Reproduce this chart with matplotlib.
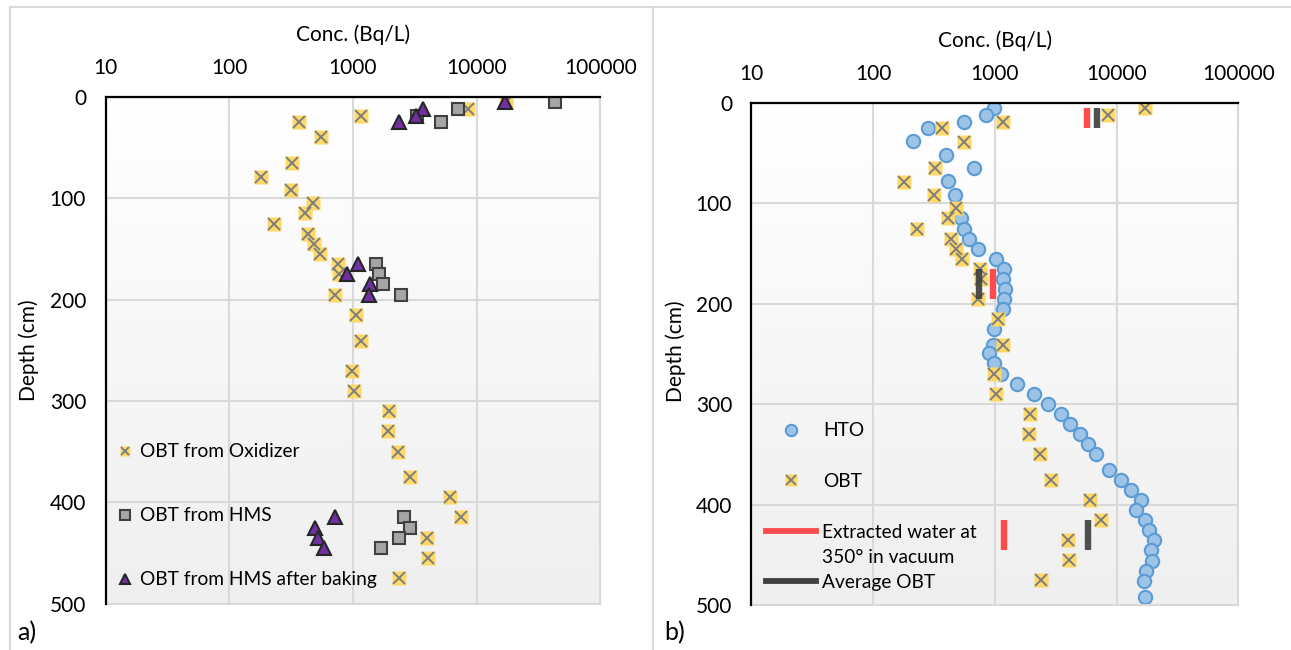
import numpy as np
import matplotlib
matplotlib.use("Agg")
import matplotlib.pyplot as plt
from matplotlib.colors import LinearSegmentedColormap
from matplotlib.lines import Line2D
from matplotlib.ticker import NullLocator

plt.rcParams['font.family'] = ['Lato', 'DejaVu Sans']

# ---------------- data ----------------
xticks = [10, 100, 1000, 10000, 100000]
xtick_labels = ["10", "100", "1000", "10000", "100000"]
yticks = [0, 100, 200, 300, 400, 500]

# OBT from oxidizer (same series as "OBT" in panel b)
obt_depth = [5, 12, 19, 25, 39, 65, 79, 92, 105, 115, 125, 135, 145, 155, 165,
             175, 195, 215, 241, 270, 290, 310, 330, 350, 375, 395, 415, 435, 455, 475]
obt_conc = [17200, 8550, 1160, 370, 553, 323, 180, 315, 475, 412, 231, 436, 482, 538, 752,
            770, 722, 1067, 1160, 990, 1030, 1950, 1910, 2330, 2880, 6100, 7500, 4000, 4050, 2370]

# OBT from HMS
hms_depth = [5, 12, 19, 25, 165, 175, 185, 195, 415, 425, 435, 445]
hms_conc = [43000, 7100, 3300, 5130, 1540, 1620, 1760, 2450, 2570, 2900, 2370, 1700]

# OBT from HMS after baking
bake_depth = [5, 12, 19, 25, 165, 175, 185, 195, 415, 425, 435, 445]
bake_conc = [17000, 3660, 3240, 2370, 1090, 900, 1375, 1343, 716, 491, 525, 587]

# HTO
hto_depth = [5, 12, 19, 25, 38, 52, 65, 78, 92, 115, 125, 135, 145, 155, 165, 175, 185,
             195, 205, 225, 241, 249, 259, 270, 280, 290, 300, 310, 320, 330, 340, 350,
             366, 375, 385, 395, 405, 415, 425, 435, 445, 456, 466, 476, 492]
hto_conc = [985, 840, 555, 284, 211, 396, 670, 412, 473, 524, 557, 609, 731, 1016, 1189,
            1173, 1211, 1194, 1173, 985, 960, 900, 990, 1117, 1520, 2110, 2730, 3470, 4140,
            4970, 5790, 6770, 8710, 10930, 13200, 15800, 14430, 17200, 18580, 20400, 19300,
            19630, 17330, 16790, 17200]

# Extracted water at 350 deg in vacuum / average OBT (depth ranges)
seg_top = [5, 165, 415]
seg_bot = [25, 195, 445]
ext_conc = [5680, 960, 1195]
avg_conc = [6850, 745, 5790]

# ---------------- styles ----------------
YEL = '#FFD966'
XGRAY = '#7F7F7F'
W, H = 1291, 650
FS = 15
LFS = 13.8

fig = plt.figure(figsize=(W / 100, H / 100), dpi=100)


def rect(x0, x1, y0, y1):
    return [x0 / W, 1 - y1 / H, (x1 - x0) / W, (y1 - y0) / H]


axL = fig.add_axes(rect(105.5, 600.3, 97, 603.5))
axR = fig.add_axes(rect(751.5, 1238.3, 103, 605))

grad = LinearSegmentedColormap.from_list('g', ['#ffffff', '#efefef'])


def style(ax):
    ax.imshow(np.linspace(0, 1, 256).reshape(-1, 1), aspect='auto', extent=[0, 1, 0, 1],
              transform=ax.transAxes, cmap=grad, zorder=0, interpolation='bilinear')
    ax.set_xscale('log')
    ax.set_xlim(10, 100000)
    ax.set_ylim(500, 0)
    ax.set_xticks(xticks)
    ax.set_xticklabels(xtick_labels)
    ax.xaxis.set_minor_locator(NullLocator())
    ax.set_yticks(yticks)
    ax.xaxis.set_ticks_position('top')
    ax.xaxis.set_label_position('top')
    ax.tick_params(axis='x', length=0, labelsize=FS, pad=14)
    ax.tick_params(axis='y', length=0, labelsize=FS, pad=14)
    ax.grid(True, color='#d9d9d9', lw=1.5, zorder=0.5)
    ax.set_axisbelow(True)
    for s in ['right', 'bottom']:
        ax.spines[s].set_color('#d9d9d9')
        ax.spines[s].set_linewidth(1.5)
    for s in ['top', 'left']:
        ax.spines[s].set_color('black')
        ax.spines[s].set_linewidth(1.6)
        ax.spines[s].set_zorder(5)
    ax.set_xlabel('Conc. (Bq/L)', fontsize=FS)
    ax.set_ylabel('Depth (cm)', fontsize=FS)


style(axL)
style(axR)
axL.xaxis.set_label_coords(0.5, 1.111)
axR.xaxis.set_label_coords(0.5, 1.112)
axL.yaxis.set_label_coords(-0.134, 0.5)
axR.yaxis.set_label_coords(-0.135, 0.505)


def obt_markers(ax, depth, conc, size=9.6, xsize=8.6):
    sq, = ax.plot(conc, depth, ls='none', marker='s', ms=size, mfc=YEL, mec='none', zorder=3)
    xx, = ax.plot(conc, depth, ls='none', marker='x', ms=xsize, mec=XGRAY, mew=1.4, zorder=3.1)
    return (sq, xx)


# ---------------- panel a ----------------
hL_obt = obt_markers(axL, obt_depth, obt_conc)
hL_hms, = axL.plot(hms_conc, hms_depth, ls='none', marker='s', ms=9.2, mfc='#A5A5A5',
                   mec='#404040', mew=1.5, zorder=3.2)
hL_bake, = axL.plot(bake_conc, bake_depth, ls='none', marker='^', ms=10.5, mfc='#7030A0',
                    mec='#262626', mew=1.5, zorder=3.3)

legL = axL.legend([hL_obt, hL_hms, hL_bake],
                  ['OBT from Oxidizer', 'OBT from HMS', 'OBT from HMS after baking'],
                  loc='upper left', bbox_to_anchor=(0.02, 0.316), frameon=False,
                  fontsize=LFS, markerscale=0.72, handlelength=0.95, handletextpad=0.35,
                  labelspacing=2.45, borderpad=0, borderaxespad=0)
legL.set_zorder(6)

# ---------------- panel b ----------------
hR_hto, = axR.plot(hto_conc, hto_depth, ls='none', marker='o', ms=9.6, mfc='#9DC3E6',
                   mec='#5B9BD5', mew=1.5, zorder=2.5)
hR_obt = obt_markers(axR, obt_depth, obt_conc)
axR.vlines(ext_conc, seg_top, seg_bot, colors='#FF4B4B', lw=4.6, zorder=4)
axR.vlines(avg_conc, seg_top, seg_bot, colors='#404040', lw=4.6, zorder=4, alpha=0.92)

leg1 = axR.legend([hR_hto, hR_obt], ['HTO', 'OBT'], loc='upper left',
                  bbox_to_anchor=(0.03, 0.364), frameon=False, fontsize=LFS,
                  markerscale=0.85, handlelength=2.65, handletextpad=0.35,
                  labelspacing=1.75, borderpad=0, borderaxespad=0)
leg1.set_zorder(6)
axR.add_artist(leg1)
hR_ext = Line2D([], [], color='#FF4B4B', lw=4.2)
hR_blank = Line2D([], [], color='none')
hR_avg = Line2D([], [], color='#404040', lw=4.2)
leg2 = axR.legend([hR_ext, hR_blank, hR_avg],
                  ['Extracted water at', '350° in vacuum', 'Average OBT'],
                  loc='upper left', bbox_to_anchor=(0.03, 0.162), frameon=False,
                  fontsize=LFS, handlelength=2.6, handletextpad=0.3,
                  labelspacing=0.42, borderpad=0, borderaxespad=0)
leg2.set_zorder(6)

# ---------------- panel labels & frames ----------------
fig.text(17 / W, 1 - 633 / H, 'a)', fontsize=18, va='center', ha='left')
fig.text(664 / W, 1 - 633 / H, 'b)', fontsize=18, va='center', ha='left')

fc = '#d9d9d9'
for xs, ys in [([10 / W, 10 / W], [0, 1 - 7 / H]),
               ([10 / W, 1], [1 - 7 / H, 1 - 7 / H]),
               ([653 / W, 653 / W], [0, 1 - 7 / H])]:
    fig.add_artist(Line2D(xs, ys, color=fc, lw=1.5, transform=fig.transFigure))

fig.savefig('out.png', dpi=100)
